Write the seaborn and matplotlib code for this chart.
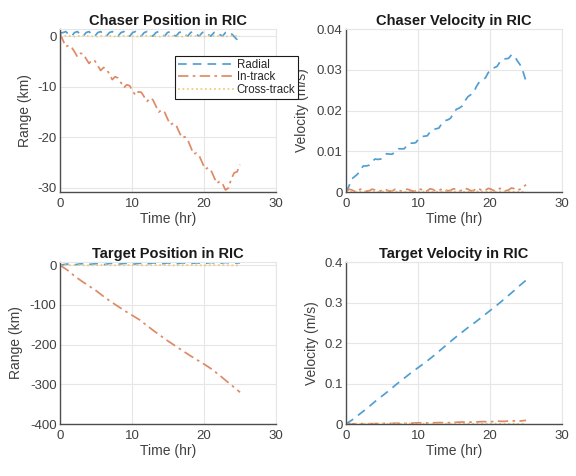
import numpy as np
import pandas as pd
import matplotlib
matplotlib.use('Agg')
import matplotlib.pyplot as plt
import seaborn as sns

sns.set_style('white')
plt.rcParams['font.family'] = ['Liberation Sans', 'DejaVu Sans']

# Time grids (hr)
t_fine = np.linspace(0, 25, 63)
t_hour = np.arange(0, 26)

# Chaser position in RIC (km)
chaser_pos_radial = [0.6, 0.7, 0.9, 0.3, 0.0, 0.7, 0.9, 0.3, 0.0, 0.7, 0.9, 0.3, 0.0, 0.7, 0.9, 0.3,
                     0.0, 0.7, 0.9, 0.3, 0.0, 0.7, 0.9, 0.3, 0.0, 0.7, 0.9, 0.3, 0.0, 0.7, 0.9, 0.3,
                     0.0, 0.7, 0.9, 0.3, 0.0, 0.7, 0.9, 0.3, 0.0, 0.7, 0.9, 0.3, 0.0, 0.7, 0.9, 0.3,
                     0.0, 0.7, 0.9, 0.3, 0.0, 0.7, 0.9, 0.3, 0.0, 0.7, 0.9, 0.5, -0.1, -0.7, -1.4]
chaser_pos_intrack = [0.5, -0.8, -2.1, -1.8, -2.2, -3.1, -4.1, -3.4, -3.5, -4.5, -5.4, -4.7, -4.9, -5.8,
                      -6.8, -6.2, -6.5, -7.5, -8.6, -8.0, -8.3, -9.2, -10.2, -9.6, -9.8, -10.8, -11.7,
                      -11.0, -11.1, -12.0, -12.9, -12.2, -12.6, -13.8, -15.0, -14.6, -15.0, -16.3, -17.5,
                      -17.2, -17.6, -18.9, -20.1, -19.9, -20.5, -21.9, -23.3, -23.1, -23.7, -25.0, -26.3,
                      -26.0, -26.5, -27.8, -29.1, -28.7, -29.2, -30.4, -30.0, -28.2, -27.0, -26.8, -25.4]
chaser_pos_cross = [0.0, 0.1, -0.1, 0.1, 0.0, -0.1, 0.1, 0.0, -0.1, 0.1, 0.0, -0.1, 0.1,
                    0.0, -0.1, 0.1, 0.0, -0.1, 0.1, 0.0, -0.1, 0.1, 0.0, -0.1, 0.1, 0.0]

# Chaser velocity in RIC (m/s)
chaser_vel_radial = [0.0000, 0.0014, 0.0032, 0.0038, 0.0044, 0.0056, 0.0064, 0.0064, 0.0066, 0.0075,
                     0.0081, 0.0080, 0.0081, 0.0089, 0.0094, 0.0093, 0.0093, 0.0101, 0.0106, 0.0106,
                     0.0106, 0.0114, 0.0120, 0.0120, 0.0121, 0.0130, 0.0136, 0.0137, 0.0138, 0.0148,
                     0.0154, 0.0155, 0.0157, 0.0168, 0.0175, 0.0177, 0.0181, 0.0193, 0.0203, 0.0206,
                     0.0211, 0.0224, 0.0234, 0.0239, 0.0245, 0.0260, 0.0271, 0.0275, 0.0280, 0.0293,
                     0.0302, 0.0305, 0.0308, 0.0319, 0.0326, 0.0327, 0.0328, 0.0337, 0.0334, 0.0322,
                     0.0312, 0.0295, 0.0272]
chaser_vel_intrack = [0.0000, 0.0007, 0.0005, 0.0002, 0.0003, 0.0007, 0.0005, 0.0002, 0.0003, 0.0007,
                      0.0005, 0.0002, 0.0003, 0.0007, 0.0005, 0.0002, 0.0003, 0.0007, 0.0005, 0.0002,
                      0.0003, 0.0007, 0.0005, 0.0002, 0.0003, 0.0008, 0.0006, 0.0002, 0.0003, 0.0008,
                      0.0006, 0.0002, 0.0003, 0.0008, 0.0006, 0.0003, 0.0004, 0.0008, 0.0006, 0.0003,
                      0.0004, 0.0009, 0.0007, 0.0003, 0.0004, 0.0009, 0.0007, 0.0003, 0.0004, 0.0009,
                      0.0007, 0.0003, 0.0004, 0.0009, 0.0007, 0.0003, 0.0005, 0.0010, 0.0008, 0.0004,
                      0.0007, 0.0012, 0.0018]
chaser_vel_cross = [0.0, 0.0001, 0.0002, 0.0001, 0.0, 0.0001, 0.0002, 0.0001, 0.0, 0.0001, 0.0002, 0.0001,
                    0.0, 0.0001, 0.0002, 0.0001, 0.0, 0.0001, 0.0002, 0.0001, 0.0, 0.0001, 0.0002,
                    0.0001, 0.0, 0.0001]

# Target position in RIC (km)
target_pos_radial = [0, 3, 1, 4, 2, 4, 1, 5, 2, 5, 2, 5, 3, 6, 3, 6, 3, 6, 4, 6, 4, 7, 4, 7, 5, 6]
target_pos_intrack = [0, -12, -27, -40, -52, -64, -78, -91, -103, -115, -126, -137, -151, -165, -178,
                      -191, -203, -215, -227, -238, -249, -261, -275, -290, -305, -320]
target_pos_cross = [0, 0, 0.5, 0, -0.5, 0, 0.5, 0, -0.5, 0, 0.5, 0, -0.5, 0, 0.5, 0, -0.5,
                    0, 0.5, 0, -0.5, 0, 0.5, 0, -0.5, 0]

# Target velocity in RIC (m/s)
target_vel_radial = [0.0, 0.012, 0.026, 0.040, 0.055, 0.069, 0.083, 0.098, 0.112, 0.126, 0.139, 0.152,
                     0.166, 0.181, 0.196, 0.211, 0.225, 0.239, 0.252, 0.266, 0.280, 0.294, 0.309,
                     0.324, 0.340, 0.355]
target_vel_intrack = [0.0, 0.0005, 0.001, 0.0005, 0.001, 0.0015, 0.001, 0.002, 0.0015, 0.002, 0.003,
                      0.0025, 0.003, 0.0035, 0.003, 0.004, 0.005, 0.0045, 0.005, 0.006, 0.0055,
                      0.007, 0.0065, 0.008, 0.007, 0.009]
target_vel_cross = [0.0, 0.001, 0.0, 0.001, 0.0, 0.001, 0.0, 0.001, 0.0, 0.001, 0.0, 0.001, 0.0,
                    0.001, 0.0, 0.001, 0.0, 0.001, 0.0, 0.001, 0.0, 0.001, 0.0, 0.001, 0.0, 0.001]

names = ['Radial', 'In-track', 'Cross-track']
colors = {'Radial': '#4f9fd4', 'In-track': '#df8a66', 'Cross-track': '#f0c97c'}
dashes = {'Radial': (5, 3.5), 'In-track': (6, 2.5, 1.5, 2.5), 'Cross-track': (1, 1.6)}


def make_df(tr, vr, ti, vi, tc, vc):
    parts = [pd.DataFrame({'t': tr, 'v': vr, 'series': 'Radial'}),
             pd.DataFrame({'t': ti, 'v': vi, 'series': 'In-track'}),
             pd.DataFrame({'t': tc, 'v': vc, 'series': 'Cross-track'})]
    return pd.concat(parts, ignore_index=True)


panels = [
    ('Chaser Position in RIC', 'Range (km)',
     make_df(t_fine, chaser_pos_radial, t_fine, chaser_pos_intrack, t_hour, chaser_pos_cross),
     (-30.8, 1.4), [-30, -20, -10, 0], ['-30', '-20', '-10', '0'], -0.13),
    ('Chaser Velocity in RIC', 'Velocity (m/s)',
     make_df(t_fine, chaser_vel_radial, t_fine, chaser_vel_intrack, t_hour, chaser_vel_cross),
     (0, 0.04), [0, 0.01, 0.02, 0.03, 0.04], ['0', '0.01', '0.02', '0.03', '0.04'], -0.172),
    ('Target Position in RIC', 'Range (km)',
     make_df(t_hour, target_pos_radial, t_hour, target_pos_intrack, t_hour, target_pos_cross),
     (-400, 8), [-400, -300, -200, -100, 0], ['-400', '-300', '-200', '-100', '0'], -0.172),
    ('Target Velocity in RIC', 'Velocity (m/s)',
     make_df(t_hour, target_vel_radial, t_hour, target_vel_intrack, t_hour, target_vel_cross),
     (0, 0.4), [0, 0.1, 0.2, 0.3, 0.4], ['0', '0.1', '0.2', '0.3', '0.4'], -0.125),
]

fig = plt.figure(figsize=(5.76, 4.76), dpi=100)
rects = [[0.1042, 0.5966, 0.375, 0.3424], [0.6007, 0.5966, 0.375, 0.3424],
         [0.1042, 0.1092, 0.375, 0.3403], [0.6007, 0.1092, 0.375, 0.3403]]

axes = []
for rect, (title, ylab, df, ylim, yt, ytl, ylx) in zip(rects, panels):
    ax = fig.add_axes(rect)
    sns.lineplot(data=df, x='t', y='v', hue='series', style='series', hue_order=names,
                 style_order=names, palette=colors, dashes=dashes, estimator=None, sort=False,
                 linewidth=1.25, ax=ax, legend=(len(axes) == 0))
    ax.set_xlim(0, 30)
    ax.set_ylim(*ylim)
    ax.set_xticks([0, 10, 20, 30])
    ax.set_yticks(yt)
    ax.set_yticklabels(ytl)
    ax.grid(True, color='#e6e6e6', linewidth=0.8)
    ax.set_axisbelow(True)
    for s in ['left', 'bottom']:
        ax.spines[s].set_color('#4d4d4d')
        ax.spines[s].set_linewidth(1.0)
    for s in ['top', 'right']:
        ax.spines[s].set_color('#e6e6e6')
        ax.spines[s].set_linewidth(0.8)
    ax.tick_params(direction='in', length=2.5, width=0.6, color='#4d4d4d',
                   labelsize=9.5, labelcolor='#404040')
    ax.tick_params(axis='x', pad=4)
    ax.tick_params(axis='y', pad=2.5)
    ax.set_title(title, fontsize=10.5, fontweight='bold', pad=3, color='#1a1a1a')
    ax.set_xlabel('Time (hr)', fontsize=10, color='#404040')
    ax.set_ylabel(ylab, fontsize=10, color='#404040')
    ax.xaxis.set_label_coords(0.5, -0.125)
    ax.yaxis.set_label_coords(ylx, 0.5)
    axes.append(ax)

# legend sits on top of both upper panels, so put it on the figure
handles, labels = axes[0].get_legend_handles_labels()
axes[0].get_legend().remove()
leg = fig.legend(handles, labels, loc='upper left', bbox_to_anchor=(175 / 576, 1 - 56 / 476),
                 fontsize=8.3, frameon=True, fancybox=False,
                 framealpha=1, edgecolor='#1a1a1a', handlelength=4.9, handletextpad=0.2,
                 labelspacing=0.05, borderpad=0.25, borderaxespad=0)
leg.get_frame().set_linewidth(0.8)

fig.savefig('out.png', dpi=100)
